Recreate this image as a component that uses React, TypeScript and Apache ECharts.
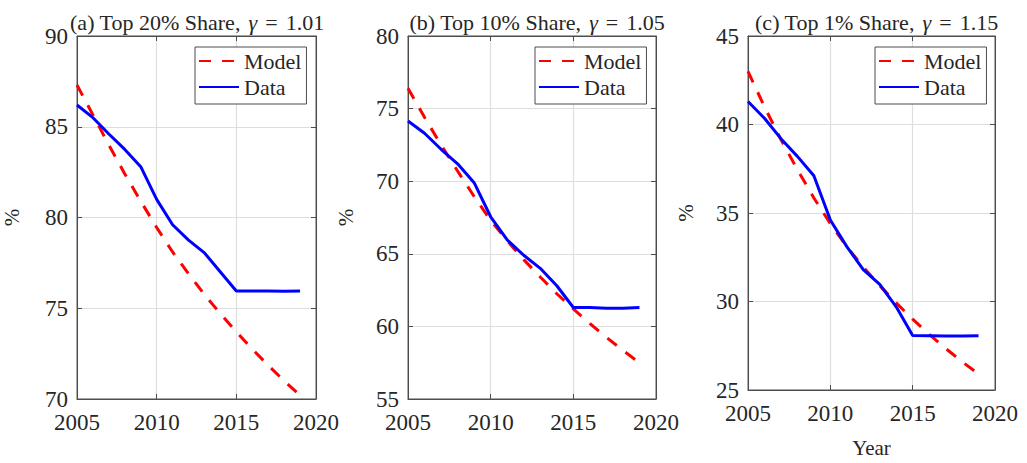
import React, { useEffect, useRef } from "react";
import * as echarts from "echarts";

const years = [2005, 2006, 2007, 2008, 2009, 2010, 2011, 2012, 2013, 2014, 2015, 2016, 2017, 2018, 2019];

const modelA = [87.3, 85.65, 84.0, 82.4, 80.9, 79.45, 78.1, 76.9, 75.75, 74.7, 73.7, 72.75, 71.85, 71.0, 70.2];
const dataA = [86.2, 85.5, 84.6, 83.75, 82.8, 81.0, 79.6, 78.75, 78.05, 77.0, 75.95, 75.95, 75.95, 75.93, 75.95];

const modelB = [76.4, 74.4, 72.5, 70.7, 68.95, 67.3, 65.9, 64.6, 63.4, 62.25, 61.2, 60.2, 59.25, 58.35, 57.5];
const dataB = [74.15, 73.3, 72.2, 71.2, 69.9, 67.55, 65.96, 64.9, 64.0, 62.8, 61.3, 61.3, 61.25, 61.25, 61.3];

const modelC = [43.0, 41.0, 39.15, 37.45, 35.85, 34.4, 33.1, 31.95, 30.9, 29.92, 29.0, 28.15, 27.35, 26.6, 25.9];
const dataC = [41.3, 40.35, 39.2, 38.2, 37.1, 34.6, 33.1, 31.8, 30.97, 29.7, 28.08, 28.07, 28.05, 28.05, 28.07];

const titlePrefixes = ["(a) Top 20% Share,", "(b) Top 10% Share,", "(c) Top 1% Share,"];
const gammas = ["1.01", "1.05", "1.15"];
const yMins = [70, 55, 25];
const yMaxs = [90, 80, 45];
const xMin = 2005;
const xMax = 2020;
const seriesNames = ["Model", "Data"];
const xName = "Year";
const yName = "%";

const FONT = "'Liberation Serif', serif";
const AXIS_COLOR = "#4d4d4d";
const TEXT_COLOR = "#262626";
const GRID_COLOR = "#dedede";

export default function App() {
  const ref = useRef<HTMLDivElement>(null);

  useEffect(() => {
    document.body.style.margin = "0";
    if (!ref.current) return;
    const chart = echarts.init(ref.current, undefined, { renderer: "svg" });

    const panels = [
      { model: modelA, data: dataA },
      { model: modelB, data: dataB },
      { model: modelC, data: dataC },
    ];
    const lefts = [68, 408, 748];
    const widths = [248, 248, 247];
    const top = 36;
    const height = 363;
    const yNameGaps = [55, 52, 52];

    const grid: any[] = [];
    const xAxis: any[] = [];
    const yAxis: any[] = [];
    const title: any[] = [];
    const legend: any[] = [];
    const series: any[] = [];

    const baseText = { fontFamily: FONT, fontSize: 22, color: TEXT_COLOR };

    panels.forEach((p, i) => {
      grid.push({
        left: lefts[i],
        top,
        width: widths[i],
        height,
        show: true,
        borderColor: AXIS_COLOR,
        borderWidth: 1,
        backgroundColor: "#fff",
      });
      xAxis.push({
        type: "value",
        gridIndex: i,
        min: xMin,
        max: xMax,
        interval: 5,
        position: "bottom",
        name: i === 2 ? xName : "",
        nameLocation: "middle",
        nameGap: 47,
        nameTextStyle: { fontFamily: FONT, fontSize: 21, color: TEXT_COLOR },
        axisLine: { show: true, lineStyle: { color: AXIS_COLOR, width: 1 } },
        axisTick: { show: true, inside: true, length: 5, lineStyle: { color: AXIS_COLOR } },
        axisLabel: {
          fontFamily: FONT,
          fontSize: 23,
          color: TEXT_COLOR,
          margin: 12,
          formatter: (v: number) => String(v),
        },
        splitLine: { show: true, lineStyle: { color: GRID_COLOR, width: 1.2 } },
      });
      xAxis.push({
        type: "value",
        gridIndex: i,
        min: xMin,
        max: xMax,
        interval: 5,
        position: "top",
        axisLine: { show: true, lineStyle: { color: AXIS_COLOR, width: 1 } },
        axisTick: { show: true, inside: true, length: 5, lineStyle: { color: AXIS_COLOR } },
        axisLabel: { show: false },
        splitLine: { show: false },
      });
      yAxis.push({
        type: "value",
        gridIndex: i,
        min: yMins[i],
        max: yMaxs[i],
        interval: 5,
        position: "left",
        name: yName,
        nameLocation: "middle",
        nameRotate: 90,
        nameGap: yNameGaps[i],
        nameTextStyle: { fontFamily: FONT, fontSize: 21, color: TEXT_COLOR },
        axisLine: { show: true, lineStyle: { color: AXIS_COLOR, width: 1 } },
        axisTick: { show: true, inside: true, length: 5, lineStyle: { color: AXIS_COLOR } },
        axisLabel: {
          fontFamily: FONT,
          fontSize: 23,
          color: TEXT_COLOR,
          margin: 9,
          formatter: (v: number) => String(v),
        },
        splitLine: { show: true, lineStyle: { color: GRID_COLOR, width: 1.2 } },
      });
      yAxis.push({
        type: "value",
        gridIndex: i,
        min: yMins[i],
        max: yMaxs[i],
        interval: 5,
        position: "right",
        axisLine: { show: true, lineStyle: { color: AXIS_COLOR, width: 1 } },
        axisTick: { show: true, inside: true, length: 5, lineStyle: { color: AXIS_COLOR } },
        axisLabel: { show: false },
        splitLine: { show: false },
      });
      title.push({
        text:
          "{p|" + titlePrefixes[i] + "}{g|γ}{e|=}{p|" + gammas[i] + "}",
        left: lefts[i] + widths[i] / 2,
        top: 6,
        textAlign: "center",
        textStyle: {
          ...baseText,
          fontWeight: "normal",
          rich: {
            p: { ...baseText },
            g: { ...baseText, fontStyle: "italic", padding: [0, 0, 0, 8] },
            e: { ...baseText, padding: [0, 8, 0, 8] },
          },
        },
      });
      legend.push({
        data: seriesNames,
        left: lefts[i] + 127,
        top: 47,
        orient: "vertical",
        backgroundColor: "#fff",
        borderColor: AXIS_COLOR,
        borderWidth: 1,
        borderRadius: 0,
        padding: [3, 5, 6, 3],
        itemWidth: 40,
        itemHeight: 14,
        itemGap: 4,
        selectedMode: false,
        itemStyle: { opacity: 0 },
        textStyle: { ...baseText },
      });
      series.push({
        name: seriesNames[0],
        type: "line",
        xAxisIndex: i * 2,
        yAxisIndex: i * 2,
        data: years.map((y, k) => [y, p.model[k]]),
        showSymbol: false,
        symbol: "none",
        lineStyle: { color: "#ff0000", width: 3, type: [12, 11], cap: "butt" },
        itemStyle: { color: "#ff0000" },
        z: 3,
      });
      series.push({
        name: seriesNames[1],
        type: "line",
        xAxisIndex: i * 2,
        yAxisIndex: i * 2,
        data: years.map((y, k) => [y, p.data[k]]),
        showSymbol: false,
        symbol: "none",
        lineStyle: { color: "#0000ff", width: 3, type: "solid" },
        itemStyle: { color: "#0000ff" },
        z: 4,
      });
    });

    chart.setOption({
      animation: false,
      backgroundColor: "#fff",
      title,
      legend,
      grid,
      xAxis,
      yAxis,
      series,
    });

    return () => {
      chart.dispose();
    };
  }, []);

  return <div ref={ref} style={{ width: 1027, height: 463 }} />;
}
